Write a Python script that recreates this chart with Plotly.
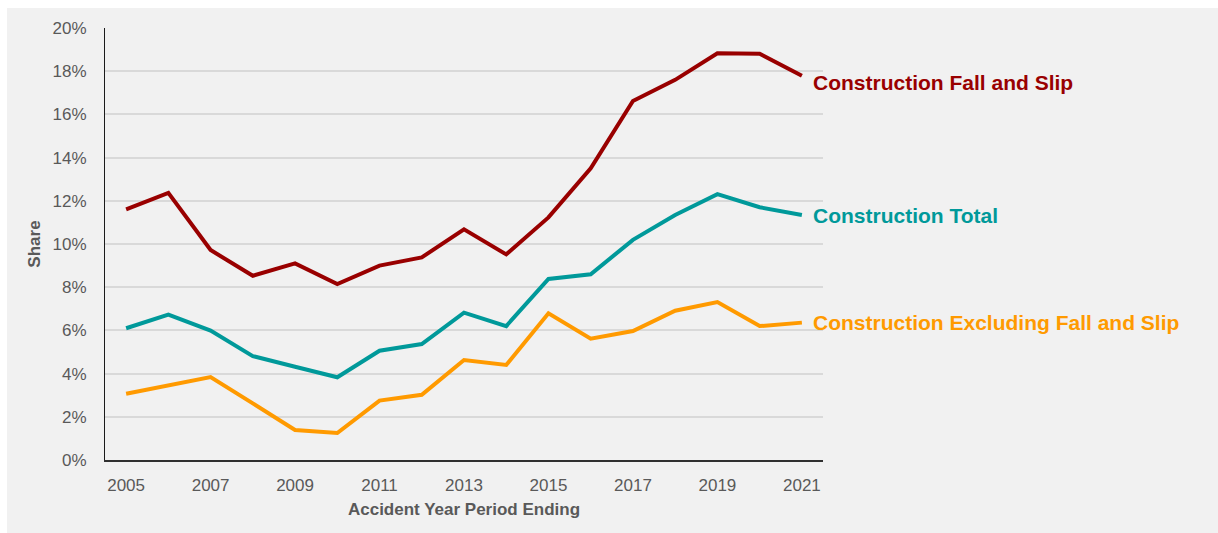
import plotly.graph_objects as go

# Accident year period ending
years = list(range(2005, 2022))

# Share of claims (%)
fall_and_slip = [11.6, 12.37, 9.72, 8.53, 9.1, 8.15, 9.0, 9.38, 10.68, 9.52,
                 11.23, 13.5, 16.62, 17.6, 18.83, 18.81, 17.79]
total = [6.1, 6.73, 5.99, 4.81, 4.32, 3.83, 5.06, 5.37, 6.82, 6.2,
         8.38, 8.6, 10.19, 11.34, 12.31, 11.7, 11.34]
excluding = [3.07, 3.46, 3.84, 2.62, 1.39, 1.25, 2.75, 3.02, 4.63, 4.4,
             6.79, 5.62, 5.97, 6.91, 7.31, 6.2, 6.36]

series = [
    ("Construction Fall and Slip", fall_and_slip, "#990000", -7),
    ("Construction Total", total, "#00999A", 0),
    ("Construction Excluding Fall and Slip", excluding, "#FF9A00", 0),
]

W, H = 1218, 533
L, R, T, B = 105, 395, 28, 73
pw, ph = W - L - R, H - T - B

fig = go.Figure()
for name, vals, color, _ in series:
    fig.add_trace(go.Scatter(
        x=years, y=vals, mode="lines", name=name,
        line=dict(color=color, width=4),
        hoverinfo="x+y+name",
    ))

annotations = []
for name, vals, color, yshift in series:
    annotations.append(dict(
        x=years[-1], y=vals[-1], xref="x", yref="y",
        text=f"<b>{name}</b>", showarrow=False,
        xanchor="left", yanchor="middle", xshift=9, yshift=yshift,
        font=dict(family="Liberation Sans, Arial, sans-serif", size=21, color=color),
    ))

# grey panel behind the chart, with a thin white edge at top and left
shapes = [dict(
    type="rect", xref="paper", yref="paper", layer="below",
    x0=(7 - L) / pw, x1=(W - L + 20) / pw,
    y0=(-B - 20) / ph, y1=(H - B - 8) / ph,
    fillcolor="#F1F1F1", line=dict(width=0),
)]

fig.update_layout(
    width=W, height=H,
    margin=dict(l=L, r=R, t=T, b=B, pad=0),
    paper_bgcolor="white",
    plot_bgcolor="rgba(0,0,0,0)",
    showlegend=False,
    annotations=annotations,
    shapes=shapes,
    font=dict(family="Liberation Sans, Arial, sans-serif", color="#595959"),
)

fig.update_xaxes(
    range=[2004.5, 2021.5],
    tickmode="array", tickvals=years[::2], ticktext=[str(y) for y in years[::2]],
    tickfont=dict(size=17, color="#595959"),
    ticklabelstandoff=9,
    showgrid=False, zeroline=False,
    showline=True, linecolor="#303030", linewidth=1.5,
    title=dict(text="<b>Accident Year Period Ending</b>",
               font=dict(size=17, color="#595959"), standoff=9),
)

fig.update_yaxes(
    range=[0, 20], dtick=2, ticksuffix="%",
    tickfont=dict(size=17, color="#595959"),
    ticklabelstandoff=14,
    showgrid=True, gridcolor="#D9D9D9", gridwidth=1.5,
    zeroline=False,
    showline=True, linecolor="#1a1a1a", linewidth=1.2,
    title=dict(text="<b>Share</b>", font=dict(size=17, color="#595959"), standoff=7),
)

fig.write_html("out.html")
